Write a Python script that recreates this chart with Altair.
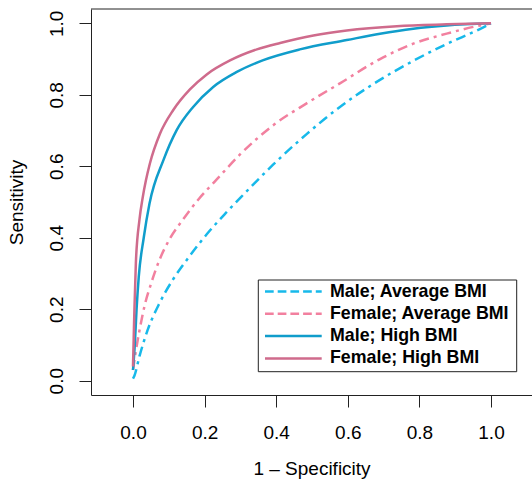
import altair as alt
import pandas as pd

series_names = ["Male; Average BMI", "Female; Average BMI", "Male; High BMI", "Female; High BMI"]
series_kind = ["avg", "avg", "high", "high"]
colors = ["#17B9EA", "#F2809F", "#109DCB", "#CF6B8C"]
legend_dashes = [[8.7, 4], [8.7, 4], [1, 0], [1, 0]]

# ROC points (1 - specificity, sensitivity)
male_avg_x = [0.0, 0.004, 0.018, 0.041, 0.074, 0.111, 0.157, 0.213, 0.260, 0.303, 0.392, 0.485, 0.578, 0.671, 0.783, 0.876, 0.969, 1.0]
male_avg_y = [0.006, 0.014, 0.068, 0.142, 0.217, 0.282, 0.347, 0.418, 0.470, 0.515, 0.605, 0.690, 0.766, 0.830, 0.895, 0.942, 0.984, 1.0]

female_avg_x = [0.0, 0.007, 0.018, 0.032, 0.050, 0.074, 0.101, 0.139, 0.185, 0.232, 0.299, 0.392, 0.485, 0.578, 0.690, 0.783, 0.876, 0.969, 1.0]
female_avg_y = [0.030, 0.077, 0.140, 0.208, 0.270, 0.338, 0.394, 0.450, 0.510, 0.561, 0.633, 0.715, 0.776, 0.832, 0.900, 0.943, 0.971, 0.994, 1.0]

male_high_x = [0.0, 0.005, 0.010, 0.016, 0.030, 0.046, 0.085, 0.122, 0.168, 0.224, 0.290, 0.364, 0.466, 0.597, 0.690, 0.783, 0.876, 1.0]
male_high_y = [0.030, 0.100, 0.200, 0.290, 0.400, 0.495, 0.617, 0.701, 0.766, 0.822, 0.864, 0.897, 0.927, 0.953, 0.971, 0.985, 0.994, 1.0]

female_high_x = [0.0, 0.002, 0.004, 0.008, 0.018, 0.027, 0.036, 0.047, 0.075, 0.113, 0.159, 0.206, 0.271, 0.346, 0.411, 0.504, 0.597, 0.737, 0.876, 1.0]
female_high_y = [0.040, 0.120, 0.200, 0.329, 0.450, 0.512, 0.560, 0.607, 0.690, 0.758, 0.815, 0.857, 0.896, 0.927, 0.945, 0.966, 0.980, 0.992, 0.997, 1.0]

x_ticks = [0.0, 0.2, 0.4, 0.6, 0.8, 1.0]
y_ticks = [0.0, 0.2, 0.4, 0.6, 0.8, 1.0]

rows = []
for name, kind, xs, ys in zip(
    series_names, series_kind,
    [male_avg_x, female_avg_x, male_high_x, female_high_x],
    [male_avg_y, female_avg_y, male_high_y, female_high_y],
):
    for xv, yv in zip(xs, ys):
        rows.append({"series": name, "kind": kind, "fpr": xv, "tpr": yv})
df = pd.DataFrame(rows)

W, H = 441, 386
FONT = "Liberation Sans"

x_scale = alt.Scale(domain=[-0.1173, 1.1145], nice=False, zero=False)
y_scale = alt.Scale(domain=[-0.04, 1.04], nice=False, zero=False)
color_scale = alt.Scale(domain=series_names, range=colors)

x_enc = alt.X("fpr:Q", scale=x_scale, axis=alt.Axis(
    values=x_ticks, format=".1f", title="1 – Specificity", tickSize=12,
    labelPadding=16, titleY=73, titleBaseline="middle"))
y_enc = alt.Y("tpr:Q", scale=y_scale, axis=alt.Axis(
    values=y_ticks, format=".1f", title="Sensitivity", tickSize=12,
    labelAngle=270, labelAlign="center", labelBaseline="bottom", labelPadding=13,
    titleX=-75, titleY=H / 2, titleBaseline="middle", titleAngle=270))
c_enc = alt.Color("series:N", scale=color_scale, legend=None)

base = alt.Chart(df)

avg_lines = base.transform_filter("datum.kind == 'avg'").mark_line(
    strokeWidth=2.5, strokeDash=[10, 5, 3, 5], interpolate="monotone"
).encode(x=x_enc, y=y_enc, color=c_enc, detail="series:N")

high_lines = base.transform_filter("datum.kind == 'high'").mark_line(
    strokeWidth=2.5, interpolate="monotone"
).encode(x=x_enc, y=y_enc, color=c_enc, detail="series:N")

one = pd.DataFrame({"k": [0]})

top_border = alt.Chart(one).mark_rule(color="#222222", strokeWidth=1).encode(
    x=alt.value(0), x2=alt.value(W + 5), y=alt.value(0)
)

# legend box (drawn by hand to match the reference's compact rows)
LX0, LX1, LY0, LY1 = 167.3, 425.7, 271, 362.7
row_y = [282.5, 304.8, 327.1, 349.4]
legend_layers = [
    alt.Chart(one).mark_rect(fill="white", stroke="#222222", strokeWidth=1).encode(
        x=alt.value(LX0), x2=alt.value(LX1), y=alt.value(LY0), y2=alt.value(LY1)
    )
]
for name, col, dash, ry in zip(series_names, colors, legend_dashes, row_y):
    legend_layers.append(
        alt.Chart(one).mark_rule(color=col, strokeWidth=2.5, strokeDash=dash).encode(
            x=alt.value(174), x2=alt.value(230.7), y=alt.value(ry)
        )
    )
    legend_layers.append(
        alt.Chart(one).mark_text(
            align="left", baseline="middle", font=FONT, fontSize=17.8,
            fontWeight="bold", color="black"
        ).encode(x=alt.value(239), y=alt.value(ry), text=alt.value(name))
    )

chart = alt.layer(avg_lines, high_lines, top_border, *legend_layers).properties(
    width=W, height=H,
    autosize=alt.AutoSizeParams(type="none"),
    padding={"left": 91, "top": 9, "right": 0, "bottom": 86},
    background="white",
).configure_view(stroke=None).configure_axis(
    grid=False, domainColor="#222222", tickColor="#222222", domainWidth=1, tickWidth=1,
    labelFont=FONT, labelFontSize=19, labelColor="black",
    titleFont=FONT, titleFontSize=19, titleFontWeight="normal", titleColor="black",
)

chart.save("out.html", embed_options={"renderer": "svg", "actions": False})
